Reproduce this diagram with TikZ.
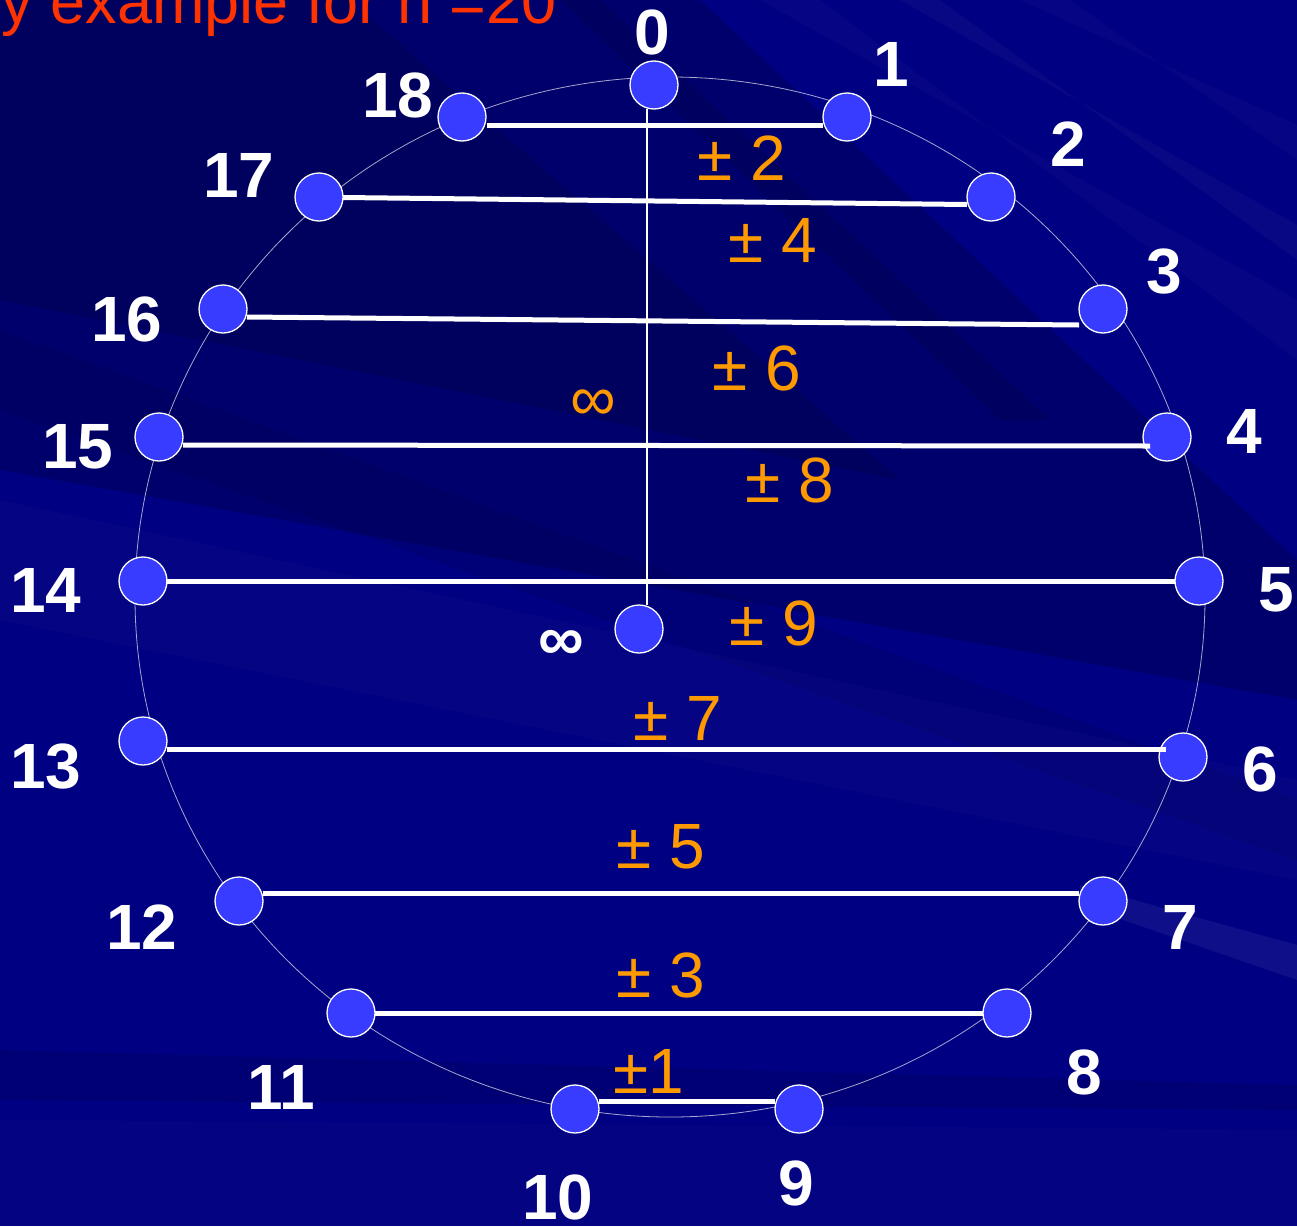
\documentclass[tikz,border=0pt]{standalone}
\usepackage{fontspec}
\setmainfont{Liberation Sans}
\usetikzlibrary{calc}
\definecolor{navy}{RGB}{0,0,130}
\definecolor{nodeblue}{RGB}{56,60,255}
\definecolor{orangelab}{RGB}{255,153,0}
\definecolor{titlered}{RGB}{255,51,0}
\tikzset{
  pt/.style={circle, fill=nodeblue, draw=white, line width=1.3pt, minimum size=48, inner sep=0},
  num/.style={text=white, font=\bfseries\fontsize{64}{64}\selectfont, inner sep=0},
  pm/.style={text=orangelab, font=\fontsize{64}{64}\selectfont, inner sep=0},
  bar/.style={draw=white, line width=5},
  axisline/.style={draw=white, line width=2.5},
  ring/.style={draw=white, draw opacity=0.65, line width=0.8},
  darkband/.style={fill=black, fill opacity=#1},
  lightband/.style={fill=white, fill opacity=#1},
}
\begin{document}
\begin{tikzpicture}[x=1pt,y=-1pt]
\useasboundingbox (0,0) rectangle (1297,1226);
\begin{scope}
\clip (0,0) rectangle (1297,1226);
% background
\fill[navy] (0,0) rectangle (1297,1226);
\fill[darkband=0.16] (0,0) -- (700,0) -- (1297,560) -- (1297,700) -- (0,470) -- cycle;
\fill[darkband=0.12] (0,0) -- (350,0) -- (900,480) -- (0,300) -- cycle;
\fill[darkband=0.08] (0,330) -- (1297,800) -- (1297,860) -- (0,410) -- cycle;
\fill[darkband=0.10] (0,1050) -- (1297,1085) -- (1297,1110) -- (0,1100) -- cycle;
\fill[darkband=0.10] (560,0) -- (600,0) -- (1050,420) -- (1000,420) -- cycle;
\fill[lightband=0.025] (760,0) -- (820,0) -- (1297,360) -- (1297,300) -- cycle;
\fill[lightband=0.03] (900,0) -- (940,0) -- (1297,260) -- (1297,225) -- cycle;
\fill[lightband=0.025] (1020,0) -- (1070,0) -- (1297,160) -- (1297,125) -- cycle;
\fill[lightband=0.02] (0,500) -- (0,620) -- (1297,880) -- (1297,780) -- cycle;
\fill[lightband=0.06] (1080,885) -- (1297,945) -- (1297,980) -- (1080,905) -- cycle;
\fill[lightband=0.015] (0,1120) -- (1297,1130) -- (1297,1226) -- (0,1226) -- cycle;

% title
\node[anchor=base east, text=titlered, font=\fontsize{63}{63}\selectfont, inner sep=0] (title) at (557,23) {y example for n =20};

% ring
\draw[ring] (670,597) ellipse [x radius=535, y radius=520];

% points
\node[pt] (n0) at (654,85) {};
\node[pt] (n1) at (847,117) {};
\node[pt] (n2) at (991,197) {};
\node[pt] (n3) at (1103,309) {};
\node[pt] (n4) at (1167,437) {};
\node[pt] (n5) at (1199,581) {};
\node[pt] (n6) at (1183,757) {};
\node[pt] (n7) at (1103,901) {};
\node[pt] (n8) at (1007,1013) {};
\node[pt] (n9) at (799,1109) {};
\node[pt] (n10) at (575,1109) {};
\node[pt] (n11) at (351,1013) {};
\node[pt] (n12) at (239,901) {};
\node[pt] (n13) at (143,741) {};
\node[pt] (n14) at (143,581) {};
\node[pt] (n15) at (159,437) {};
\node[pt] (n16) at (223,309) {};
\node[pt] (n17) at (319,197) {};
\node[pt] (n18) at (462,117) {};
\node[pt] (ninf) at (639,629) {};

% connectors
\draw[axisline] ([shift={(-7,24)}]n0.center) -- ([shift={(8,-24)}]ninf.center);
\draw[bar] ([shift={(25,8)}]n18.center) -- ([shift={(-24,8)}]n1.center);
\draw[bar] ([shift={(24,0.5)}]n17.center) -- ([shift={(-24,7.5)}]n2.center);
\draw[bar] ([shift={(24,8)}]n16.center) -- ([shift={(-24,16)}]n3.center);
\draw[bar] ([shift={(24,8)}]n15.center) -- ([shift={(-17,9)}]n4.center);
\draw[bar] ([shift={(23,0)}]n14.center) -- ([shift={(-24,0)}]n5.center);
\draw[bar] ([shift={(24,8)}]n13.center) -- ([shift={(-17,-8)}]n6.center);
\draw[bar] ([shift={(24,-8)}]n12.center) -- ([shift={(-24,-8)}]n7.center);
\draw[bar] ([shift={(24,0)}]n11.center) -- ([shift={(-24,0)}]n8.center);
\draw[bar] ([shift={(24,-8)}]n10.center) -- ([shift={(-24,-8)}]n9.center);

% number labels
\node[num] (l0) at (652,32) {0};
\node[num] (l1) at (891,64) {1};
\node[num] (l2) at (1068,144) {2};
\node[num] (l3) at (1164,272) {3};
\node[num] (l4) at (1244,431) {4};
\node[num] (l5) at (1276,590) {5};
\node[num] (l6) at (1260,769) {6};
\node[num] (l7) at (1180,927) {7};
\node[num] (l8) at (1084,1072) {8};
\node[num] (l9) at (796,1183) {9};
\node[num] (l10) at (558,1197) {10};
\node[num] (l11) at (281,1087) {11};
\node[num] (l12) at (142,927) {12};
\node[num] (l13) at (46,767) {13};
\node[num] (l14) at (46,590) {14};
\node[num] (l15) at (78,447) {15};
\node[num] (l16) at (127,319) {16};
\node[num] (l17) at (239,175) {17};
\node[num] (l18) at (398,95) {18};
\node[num] (linf) at (561,645) {∞};

% distance labels
\node[pm] (d2) at (742,158) {± 2};
\node[pm] (d4) at (773,240) {± 4};
\node[pm] (d6) at (757,368) {± 6};
\node[pm] (d8) at (790,480) {± 8};
\node[pm] (d9) at (774,623) {± 9};
\node[pm] (d7) at (678,718) {± 7};
\node[pm] (d5) at (661,847) {± 5};
\node[pm] (d3) at (661,975) {± 3};
\node[pm] (d1) at (649,1071) {±1};
\node[pm] (dinf) at (593,405) {∞};
\end{scope}
\end{tikzpicture}
\end{document}
